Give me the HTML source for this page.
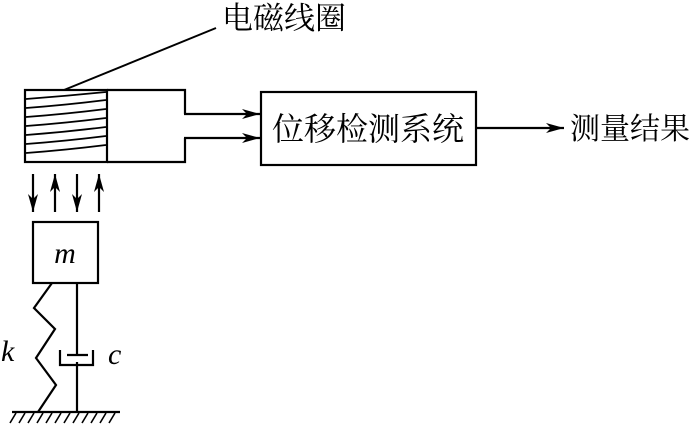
<!DOCTYPE html>
<html><head><meta charset="utf-8"><style>
html,body{margin:0;padding:0;background:#fff;}
svg{display:block;}
text{font-family:"Liberation Serif","Noto Serif CJK SC","Noto Sans CJK SC",serif;fill:#000;}
</style></head><body>
<svg width="700" height="424" viewBox="0 0 700 424" xmlns="http://www.w3.org/2000/svg">
<defs>
<marker id="a" markerWidth="18" markerHeight="10" refX="18" refY="5" orient="auto" markerUnits="userSpaceOnUse">
<path d="M0,0 L18,5 L0,10 L5,5 Z" fill="#000"/>
</marker>
</defs>
<g stroke="#000" stroke-width="2.2" fill="none">
<rect x="25" y="90" width="82" height="72"/>
<path d="M107,90 H185 V114 M185,138 V162 H107"/>
<line x1="184" y1="114" x2="260" y2="114" marker-end="url(#a)"/>
<line x1="184" y1="138" x2="260" y2="138" marker-end="url(#a)"/>
<g stroke-width="1.8">
<path d="M26,99 Q66,96 106,92"/>
<path d="M26,108 Q66,105 106,100"/>
<path d="M26,117 Q66,114 106,109"/>
<path d="M26,126 Q66,123 106,118"/>
<path d="M26,135 Q66,132 106,127"/>
<path d="M26,144 Q66,141 106,136"/>
<path d="M26,153 Q66,150 106,145"/>
</g>
<line x1="64" y1="90" x2="216" y2="28" stroke-width="2"/>
<rect x="261" y="92" width="215" height="73"/>
<line x1="476" y1="128" x2="564" y2="128" marker-end="url(#a)"/>
<line x1="33" y1="174" x2="33" y2="212" marker-end="url(#a)"/>
<line x1="55" y1="212" x2="55" y2="174" marker-end="url(#a)"/>
<line x1="77" y1="174" x2="77" y2="212" marker-end="url(#a)"/>
<line x1="99" y1="212" x2="99" y2="174" marker-end="url(#a)"/>
<rect x="33" y="222" width="65" height="61"/>
<path d="M52,283 L34,308 L55,329 L36,358 L56,385 L38,412"/>
<line x1="77" y1="283" x2="77" y2="355"/>
<line x1="77" y1="362" x2="77" y2="412"/>
<path d="M60,350 V365 H93 V350"/>
<line x1="67" y1="355" x2="88" y2="355"/>
<line x1="12" y1="412" x2="120" y2="412"/>
<g stroke-width="1.6">
<path d="M16,413 l-6,10 M25,413 l-6,10 M34,413 l-6,10 M43,413 l-6,10 M52,413 l-6,10 M61,413 l-6,10 M70,413 l-6,10 M79,413 l-6,10 M88,413 l-6,10 M97,413 l-6,10 M106,413 l-6,10 M115,413 l-6,10"/>
</g>
</g>
<text x="222" y="29" font-size="31">电磁线圈</text>
<text x="368" y="140" font-size="32" text-anchor="middle">位移检测系统</text>
<text x="570" y="139" font-size="30">测量结果</text>
<text x="65" y="263" font-size="30" font-style="italic" text-anchor="middle">m</text>
<text x="108" y="364" font-size="30" font-style="italic">c</text>
<text x="1" y="361" font-size="30" font-style="italic">k</text>
</svg>
</body></html>
